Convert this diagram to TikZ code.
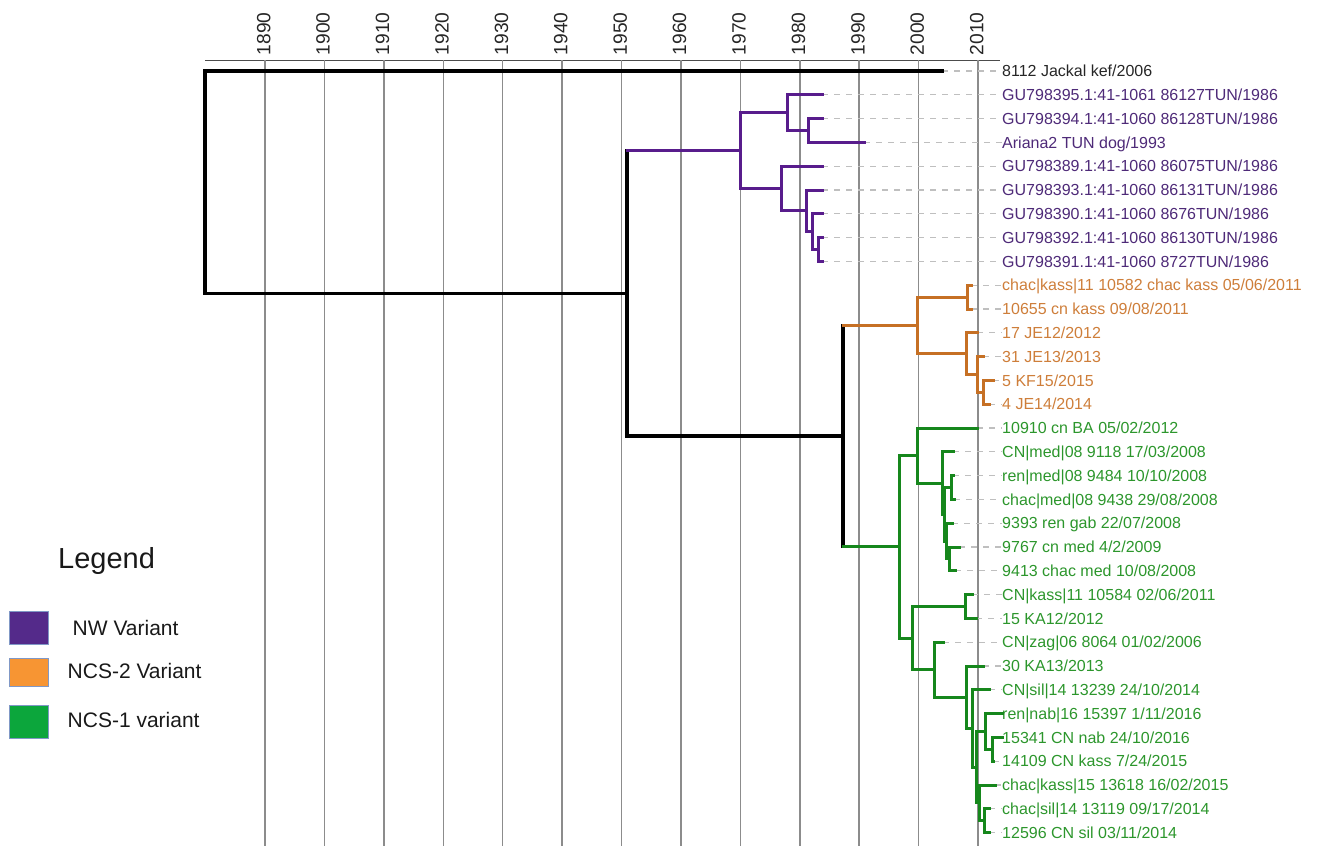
\documentclass[tikz,border=0pt]{standalone}
\usepackage{fontspec}
\setmainfont{Liberation Sans}

\definecolor{nwline}{RGB}{88,28,140}
\definecolor{nwtext}{RGB}{78,42,120}
\definecolor{ncstwoline}{RGB}{198,112,36}
\definecolor{ncstwotext}{RGB}{206,126,58}
\definecolor{ncsoneline}{RGB}{22,135,28}
\definecolor{ncsonetext}{RGB}{44,150,44}
\definecolor{nwbox}{RGB}{84,42,138}
\definecolor{ncstwobox}{RGB}{247,149,51}
\definecolor{ncsonebox}{RGB}{12,166,60}
\definecolor{boxrim}{RGB}{128,152,198}

\begin{document}
\begin{tikzpicture}[x=1pt,y=-1pt,
    gridline/.style={draw=black!45,line width=1.5pt},
    yearlabel/.style={rotate=90,anchor=west,inner sep=0pt,text=black!85,font=\fontsize{19.2}{22}\selectfont},
    tiplabel/.style={anchor=west,inner sep=0pt,text height=11.4pt,text depth=0pt,font=\fontsize{16}{18}\selectfont},
    tipdash/.style={draw=black!25,line width=1.1pt,dash pattern=on 6pt off 6pt},
    branch/.style={line width=3pt,line cap=rect,line join=miter},
    rootbranch/.style={branch,draw=black,line width=3.2pt},
    nwbranch/.style={branch,draw=nwline},
    ncstwobranch/.style={branch,draw=ncstwoline},
    ncsonebranch/.style={branch,draw=ncsoneline},
    legendbox/.style={draw=boxrim,line width=1pt},
    legendtext/.style={anchor=base west,inner sep=0pt,text=black!90,font=\fontsize{21}{24}\selectfont}]
    \useasboundingbox (0,0) rectangle (1325,846);

    % time axis
    \draw[black!70,line width=1pt] (205,60) -- (1000,60);
    \draw[gridline] (265,60) -- (265,846);
    \draw[gridline] (324.4,60) -- (324.4,846);
    \draw[gridline] (383.8,60) -- (383.8,846);
    \draw[gridline] (443.3,60) -- (443.3,846);
    \draw[gridline] (502.7,60) -- (502.7,846);
    \draw[gridline] (562.1,60) -- (562.1,846);
    \draw[gridline] (621.5,60) -- (621.5,846);
    \draw[gridline] (680.9,60) -- (680.9,846);
    \draw[gridline] (740.4,60) -- (740.4,846);
    \draw[gridline] (799.8,60) -- (799.8,846);
    \draw[gridline] (859.2,60) -- (859.2,846);
    \draw[gridline] (918.6,60) -- (918.6,846);
    \draw[gridline] (978,60) -- (978,846);

    \node[yearlabel] (y1890) at (263.7,55.5) {1890};
    \node[yearlabel] (y1900) at (323.1,55.5) {1900};
    \node[yearlabel] (y1910) at (382.5,55.5) {1910};
    \node[yearlabel] (y1920) at (442,55.5) {1920};
    \node[yearlabel] (y1930) at (501.4,55.5) {1930};
    \node[yearlabel] (y1940) at (560.8,55.5) {1940};
    \node[yearlabel] (y1950) at (620.2,55.5) {1950};
    \node[yearlabel] (y1960) at (679.6,55.5) {1960};
    \node[yearlabel] (y1970) at (739.1,55.5) {1970};
    \node[yearlabel] (y1980) at (798.5,55.5) {1980};
    \node[yearlabel] (y1990) at (857.9,55.5) {1990};
    \node[yearlabel] (y2000) at (917.3,55.5) {2000};
    \node[yearlabel] (y2010) at (976.7,55.5) {2010};

    % tips
    \coordinate (jk) at (942,71);
    \coordinate (p1) at (822,94.8);
    \coordinate (p2) at (822,118.6);
    \coordinate (p3) at (864,142.4);
    \coordinate (p4) at (822,166.2);
    \coordinate (p5) at (822,190);
    \coordinate (p6) at (822,213.8);
    \coordinate (p7) at (822,237.6);
    \coordinate (p8) at (822,261.4);
    \coordinate (o1) at (971,285.2);
    \coordinate (o2) at (971,309);
    \coordinate (o3) at (977,332.8);
    \coordinate (o4) at (983,356.6);
    \coordinate (o5) at (993,380.4);
    \coordinate (o6) at (989,404.2);
    \coordinate (g1) at (977,428);
    \coordinate (g2) at (953,451.8);
    \coordinate (g3) at (953,475.6);
    \coordinate (g4) at (954,499.4);
    \coordinate (g5) at (952,523.2);
    \coordinate (g6) at (959,547);
    \coordinate (g7) at (955,570.8);
    \coordinate (g8) at (972,594.6);
    \coordinate (g9) at (976,618.4);
    \coordinate (g10) at (943,642.2);
    \coordinate (g11) at (983,666);
    \coordinate (g12) at (989,689.8);
    \coordinate (g13) at (1002,713.6);
    \coordinate (g14) at (1002,737.4);
    \coordinate (g15) at (993,761.2);
    \coordinate (g16) at (995,785);
    \coordinate (g17) at (989,808.8);
    \coordinate (g18) at (989,832.6);

    % labels
    \node[tiplabel,text=black!85] (ljk) at (1002,71) {8112 Jackal kef/2006};
    \node[tiplabel,text=nwtext] (lp1) at (1002,94.8) {GU798395.1:41-1061 86127TUN/1986};
    \node[tiplabel,text=nwtext] (lp2) at (1002,118.6) {GU798394.1:41-1060 86128TUN/1986};
    \node[tiplabel,text=nwtext] (lp3) at (1002,142.4) {Ariana2 TUN dog/1993};
    \node[tiplabel,text=nwtext] (lp4) at (1002,166.2) {GU798389.1:41-1060 86075TUN/1986};
    \node[tiplabel,text=nwtext] (lp5) at (1002,190) {GU798393.1:41-1060 86131TUN/1986};
    \node[tiplabel,text=nwtext] (lp6) at (1002,213.8) {GU798390.1:41-1060 8676TUN/1986};
    \node[tiplabel,text=nwtext] (lp7) at (1002,237.6) {GU798392.1:41-1060 86130TUN/1986};
    \node[tiplabel,text=nwtext] (lp8) at (1002,261.4) {GU798391.1:41-1060 8727TUN/1986};
    \node[tiplabel,text=ncstwotext] (lo1) at (1002,285.2) {chac|kass|11 10582 chac kass 05/06/2011};
    \node[tiplabel,text=ncstwotext] (lo2) at (1002,309) {10655 cn kass 09/08/2011};
    \node[tiplabel,text=ncstwotext] (lo3) at (1002,332.8) {17 JE12/2012};
    \node[tiplabel,text=ncstwotext] (lo4) at (1002,356.6) {31 JE13/2013};
    \node[tiplabel,text=ncstwotext] (lo5) at (1002,380.4) {5 KF15/2015};
    \node[tiplabel,text=ncstwotext] (lo6) at (1002,404.2) {4 JE14/2014};
    \node[tiplabel,text=ncsonetext] (lg1) at (1002,428) {10910 cn BA 05/02/2012};
    \node[tiplabel,text=ncsonetext] (lg2) at (1002,451.8) {CN|med|08 9118 17/03/2008};
    \node[tiplabel,text=ncsonetext] (lg3) at (1002,475.6) {ren|med|08 9484 10/10/2008};
    \node[tiplabel,text=ncsonetext] (lg4) at (1002,499.4) {chac|med|08 9438 29/08/2008};
    \node[tiplabel,text=ncsonetext] (lg5) at (1002,523.2) {9393 ren gab 22/07/2008};
    \node[tiplabel,text=ncsonetext] (lg6) at (1002,547) {9767 cn med 4/2/2009};
    \node[tiplabel,text=ncsonetext] (lg7) at (1002,570.8) {9413 chac med 10/08/2008};
    \node[tiplabel,text=ncsonetext] (lg8) at (1002,594.6) {CN|kass|11 10584 02/06/2011};
    \node[tiplabel,text=ncsonetext] (lg9) at (1002,618.4) {15 KA12/2012};
    \node[tiplabel,text=ncsonetext] (lg10) at (1002,642.2) {CN|zag|06 8064 01/02/2006};
    \node[tiplabel,text=ncsonetext] (lg11) at (1002,666) {30 KA13/2013};
    \node[tiplabel,text=ncsonetext] (lg12) at (1002,689.8) {CN|sil|14 13239 24/10/2014};
    \node[tiplabel,text=ncsonetext] (lg13) at (1002,713.6) {ren|nab|16 15397 1/11/2016};
    \node[tiplabel,text=ncsonetext] (lg14) at (1002,737.4) {15341 CN nab 24/10/2016};
    \node[tiplabel,text=ncsonetext] (lg15) at (1002,761.2) {14109 CN kass 7/24/2015};
    \node[tiplabel,text=ncsonetext] (lg16) at (1002,785) {chac|kass|15 13618 16/02/2015};
    \node[tiplabel,text=ncsonetext] (lg17) at (1002,808.8) {chac|sil|14 13119 09/17/2014};
    \node[tiplabel,text=ncsonetext] (lg18) at (1002,832.6) {12596 CN sil 03/11/2014};

    % dashed leaders
    \draw[tipdash] (jk) -- (ljk.west);
    \draw[tipdash] (p1) -- (lp1.west);
    \draw[tipdash] (p2) -- (lp2.west);
    \draw[tipdash] (p3) -- (lp3.west);
    \draw[tipdash] (p4) -- (lp4.west);
    \draw[tipdash] (p5) -- (lp5.west);
    \draw[tipdash] (p6) -- (lp6.west);
    \draw[tipdash] (p7) -- (lp7.west);
    \draw[tipdash] (p8) -- (lp8.west);
    \draw[tipdash] (o1) -- (lo1.west);
    \draw[tipdash] (o2) -- (lo2.west);
    \draw[tipdash] (o3) -- (lo3.west);
    \draw[tipdash] (o4) -- (lo4.west);
    \draw[tipdash] (o5) -- (lo5.west);
    \draw[tipdash] (o6) -- (lo6.west);
    \draw[tipdash] (g1) -- (lg1.west);
    \draw[tipdash] (g2) -- (lg2.west);
    \draw[tipdash] (g3) -- (lg3.west);
    \draw[tipdash] (g4) -- (lg4.west);
    \draw[tipdash] (g5) -- (lg5.west);
    \draw[tipdash] (g6) -- (lg6.west);
    \draw[tipdash] (g7) -- (lg7.west);
    \draw[tipdash] (g8) -- (lg8.west);
    \draw[tipdash] (g9) -- (lg9.west);
    \draw[tipdash] (g10) -- (lg10.west);
    \draw[tipdash] (g11) -- (lg11.west);
    \draw[tipdash] (g12) -- (lg12.west);
    \draw[tipdash] (g15) -- (lg15.west);
    \draw[tipdash] (g16) -- (lg16.west);
    \draw[tipdash] (g17) -- (lg17.west);
    \draw[tipdash] (g18) -- (lg18.west);

    % inner nodes
    \coordinate (root) at (205,182.17);
    \coordinate (split) at (627,293.33);
    \coordinate (mrca) at (843,436.08);
    \coordinate (pa) at (808,130.5);
    \coordinate (pb) at (787,112.65);
    \coordinate (pc) at (818,249.5);
    \coordinate (pd) at (812,231.65);
    \coordinate (pe) at (806,210.83);
    \coordinate (pf) at (781,188.51);
    \coordinate (pg) at (740,150.58);
    \coordinate (oa) at (967,297.1);
    \coordinate (ob) at (983,392.3);
    \coordinate (oc) at (977,374.45);
    \coordinate (od) at (966,353.63);
    \coordinate (oe) at (917,325.36);
    \coordinate (ga) at (951,487.5);
    \coordinate (gb) at (949,558.9);
    \coordinate (gc) at (946,541.05);
    \coordinate (gd) at (944,514.28);
    \coordinate (ge) at (942,483.04);
    \coordinate (gf) at (917,455.52);
    \coordinate (gg) at (965,606.5);
    \coordinate (gh) at (992,749.3);
    \coordinate (gi) at (985,731.45);
    \coordinate (gj) at (984,820.7);
    \coordinate (gk) at (979,802.85);
    \coordinate (gl) at (976,767.15);
    \coordinate (gm) at (972,728.48);
    \coordinate (gn) at (966,697.24);
    \coordinate (go) at (934,669.72);
    \coordinate (gp) at (912,638.11);
    \coordinate (gq) at (899,546.8);

    % backbone
    \draw[rootbranch] (root) |- (jk);
    \draw[rootbranch] (root) |- (split);
    \draw[rootbranch] (split |- pg) -- (split |- mrca) -- (mrca);
    \draw[rootbranch] (mrca |- oe) -- (mrca |- gq);
    \draw[nwbranch] (split |- pg) -- (pg);
    \draw[ncstwobranch] (mrca |- oe) -- (oe);
    \draw[ncsonebranch] (mrca |- gq) -- (gq);

    % NW clade
    \draw[nwbranch] (pg) |- (pb);
    \draw[nwbranch] (pg) |- (pf);
    \draw[nwbranch] (pb) |- (p1);
    \draw[nwbranch] (pb) |- (pa);
    \draw[nwbranch] (pa) |- (p2);
    \draw[nwbranch] (pa) |- (p3);
    \draw[nwbranch] (pf) |- (p4);
    \draw[nwbranch] (pf) |- (pe);
    \draw[nwbranch] (pe) |- (p5);
    \draw[nwbranch] (pe) |- (pd);
    \draw[nwbranch] (pd) |- (p6);
    \draw[nwbranch] (pd) |- (pc);
    \draw[nwbranch] (pc) |- (p7);
    \draw[nwbranch] (pc) |- (p8);

    % NCS-2 clade
    \draw[ncstwobranch] (oe) |- (oa);
    \draw[ncstwobranch] (oe) |- (od);
    \draw[ncstwobranch] (oa) |- (o1);
    \draw[ncstwobranch] (oa) |- (o2);
    \draw[ncstwobranch] (od) |- (o3);
    \draw[ncstwobranch] (od) |- (oc);
    \draw[ncstwobranch] (oc) |- (o4);
    \draw[ncstwobranch] (oc) |- (ob);
    \draw[ncstwobranch] (ob) |- (o5);
    \draw[ncstwobranch] (ob) |- (o6);

    % NCS-1 clade
    \draw[ncsonebranch] (gq) |- (gf);
    \draw[ncsonebranch] (gq) |- (gp);
    \draw[ncsonebranch] (gf) |- (g1);
    \draw[ncsonebranch] (gf) |- (ge);
    \draw[ncsonebranch] (ge) |- (g2);
    \draw[ncsonebranch] (ge) |- (gd);
    \draw[ncsonebranch] (gd) |- (ga);
    \draw[ncsonebranch] (gd) |- (gc);
    \draw[ncsonebranch] (ga) |- (g3);
    \draw[ncsonebranch] (ga) |- (g4);
    \draw[ncsonebranch] (gc) |- (g5);
    \draw[ncsonebranch] (gc) |- (gb);
    \draw[ncsonebranch] (gb) |- (g6);
    \draw[ncsonebranch] (gb) |- (g7);
    \draw[ncsonebranch] (gp) |- (gg);
    \draw[ncsonebranch] (gp) |- (go);
    \draw[ncsonebranch] (gg) |- (g8);
    \draw[ncsonebranch] (gg) |- (g9);
    \draw[ncsonebranch] (go) |- (g10);
    \draw[ncsonebranch] (go) |- (gn);
    \draw[ncsonebranch] (gn) |- (g11);
    \draw[ncsonebranch] (gn) |- (gm);
    \draw[ncsonebranch] (gm) |- (g12);
    \draw[ncsonebranch] (gm) |- (gl);
    \draw[ncsonebranch] (gl) |- (gi);
    \draw[ncsonebranch] (gl) |- (gk);
    \draw[ncsonebranch] (gi) |- (g13);
    \draw[ncsonebranch] (gi) |- (gh);
    \draw[ncsonebranch] (gh) |- (g14);
    \draw[ncsonebranch] (gh) |- (g15);
    \draw[ncsonebranch] (gk) |- (g16);
    \draw[ncsonebranch] (gk) |- (gj);
    \draw[ncsonebranch] (gj) |- (g17);
    \draw[ncsonebranch] (gj) |- (g18);

    % legend
    \node[anchor=base west,inner sep=0pt,text=black!90,font=\fontsize{29}{32}\selectfont] (legtitle) at (58,568.3) {Legend};
    \filldraw[legendbox,fill=nwbox] (9,611) rectangle (48,644);
    \filldraw[legendbox,fill=ncstwobox] (9,658) rectangle (48,686);
    \filldraw[legendbox,fill=ncsonebox] (9,705) rectangle (48,738);
    \node[legendtext] (legnw) at (72.5,635) {NW Variant};
    \node[legendtext] (legncstwo) at (67.5,678.3) {NCS-2 Variant};
    \node[legendtext] (legncsone) at (67.5,727.3) {NCS-1 variant};
\end{tikzpicture}
\end{document}
